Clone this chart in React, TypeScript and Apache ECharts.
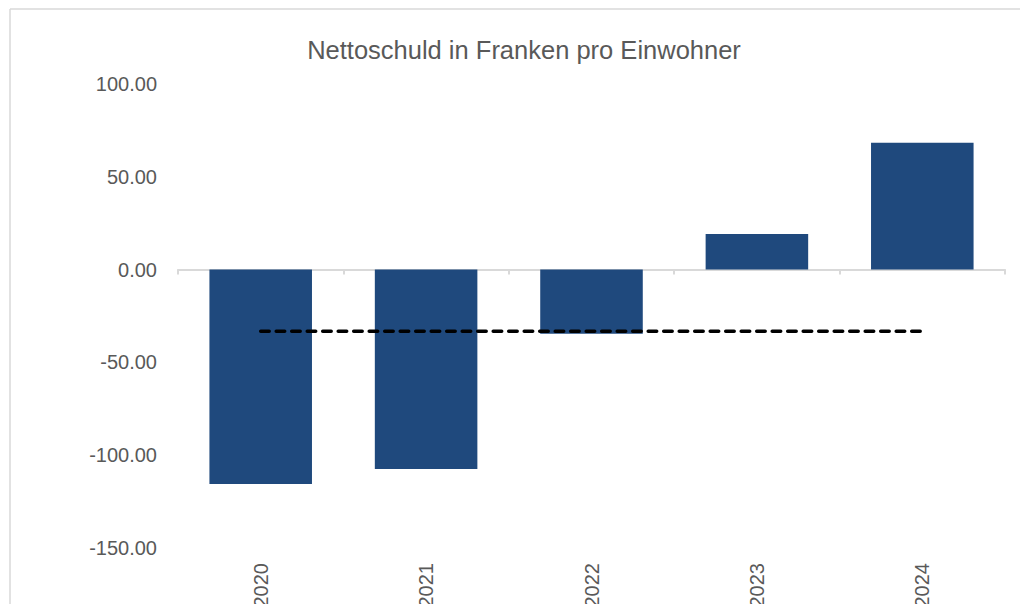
import React, { useEffect, useRef } from "react";
import * as echarts from "echarts";

const titleText = "Nettoschuld in Franken pro Einwohner";
const categories = ["2020", "2021", "2022", "2023", "2024"];
const netDebt = [-115.5, -107.4, -34.5, 19.2, 68.3];
const averageLine = [-33.2, -33.2, -33.2, -33.2, -33.2];
const yMin = -150;
const yMax = 100;
const yStep = 50;

const FONT = "'Liberation Sans', Arial, sans-serif";

export default function App() {
  const ref = useRef<HTMLDivElement>(null);
  useEffect(() => {
    if (!ref.current) return;
    const chart = echarts.init(ref.current, undefined, { renderer: "svg" });
    chart.setOption({
      animation: false,
      backgroundColor: "#ffffff",
      title: {
        text: titleText,
        left: 519,
        textAlign: "center",
        top: 32,
        textStyle: { fontFamily: FONT, fontSize: 25.5, fontWeight: "normal", color: "#595959" },
      },
      graphic: [
        { type: "line", shape: { x1: 10, y1: 9, x2: 1020, y2: 9 }, style: { stroke: "#d9d9d9", lineWidth: 1.5 } },
        { type: "line", shape: { x1: 10, y1: 9, x2: 10, y2: 604 }, style: { stroke: "#d9d9d9", lineWidth: 1.5 } },
      ],
      grid: { left: 178, right: 15, top: 84, bottom: 56, outerBoundsMode: "none", containLabel: false },
      xAxis: [
        {
          type: "category",
          data: categories,
          position: "bottom",
          axisLine: { onZero: true, lineStyle: { color: "#d9d9d9", width: 2 } },
          axisTick: { show: true, length: 5, lineStyle: { color: "#d9d9d9", width: 2 } },
          axisLabel: { show: false },
          splitLine: { show: false },
        },
        {
          type: "category",
          data: categories,
          position: "bottom",
          axisLine: { show: false, onZero: false },
          axisTick: { show: false },
          axisLabel: { rotate: 90, margin: 15, fontFamily: FONT, fontSize: 20, color: "#595959" },
          splitLine: { show: false },
        },
      ],
      yAxis: {
        type: "value",
        min: yMin,
        max: yMax,
        interval: yStep,
        axisLine: { show: false },
        axisTick: { show: false },
        splitLine: { show: false },
        axisLabel: {
          margin: 21,
          fontFamily: FONT,
          fontSize: 20,
          color: "#595959",
          formatter: (v: number) => v.toFixed(2),
        },
      },
      series: [
        {
          type: "bar",
          xAxisIndex: 0,
          data: netDebt,
          barWidth: "62%",
          itemStyle: { color: "#1f497d" },
          z: 2,
        },
        {
          type: "line",
          xAxisIndex: 0,
          data: averageLine,
          symbol: "none",
          lineStyle: { color: "#000000", width: 3.5, type: [8.5, 7], cap: "round" },
          z: 3,
        },
      ],
    });
    return () => chart.dispose();
  }, []);
  return (
    <div
      ref={ref}
      style={{ position: "absolute", left: 0, top: 0, width: 1020, height: 604 }}
    />
  );
}
